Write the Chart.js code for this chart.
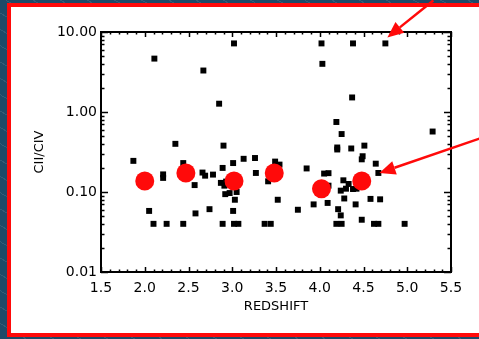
<!DOCTYPE html>
<html>
<head>
<meta charset="utf-8">
<script src="https://cdn.jsdelivr.net/npm/chart.js@4/dist/chart.umd.min.js"></script>
<style>
  html, body { margin: 0; padding: 0; }
  body {
    width: 479px; height: 339px; overflow: hidden; position: relative;
    background: #1e4a68 repeating-linear-gradient(31deg, transparent 0 13px, rgba(255,255,255,0.10) 13px 14px);
  }
  #panel {
    position: absolute; left: 7px; top: 3px; width: 520px; height: 334px;
    box-sizing: border-box; background: #fff; border: 4px solid #ff0a0a;
  }
  #chart { position: absolute; left: 0; top: 0; }
</style>
</head>
<body>
<div id="panel"></div>
<canvas id="chart" width="479" height="339"></canvas>
<script>
// individual quasars: redshift / CII-CIV ratio
const quasarZ = [
  1.87, 2.11, 2.05, 2.10, 2.21, 2.21, 2.25, 2.35, 2.44, 2.44,
  2.57, 2.58, 2.66, 2.69, 2.67, 2.74, 2.78, 2.85, 2.87, 2.89,
  2.90, 2.89, 2.91, 2.93, 2.92, 2.97, 3.01, 3.02, 3.01, 3.03,
  3.05, 3.02, 3.07, 3.13, 3.26, 3.27, 3.37, 3.44, 3.41, 3.49,
  3.54, 3.52, 3.75, 3.85, 3.93, 4.02, 4.03, 4.05, 4.10, 4.10,
  4.09, 4.19, 4.20, 4.20, 4.25, 4.21, 4.24, 4.19, 4.25, 4.24,
  4.27, 4.28, 4.33, 4.36, 4.37, 4.38, 4.38, 4.41, 4.48, 4.49,
  4.51, 4.48, 4.58, 4.64, 4.67, 4.69, 4.62, 4.67, 4.75, 4.97,
  5.29, 4.30, 4.42
];
const quasarRatio = [
  0.245, 4.65, 0.058, 0.040, 0.166, 0.150, 0.040, 0.40, 0.23, 0.040,
  0.122, 0.054, 0.175, 0.160, 3.3, 0.061, 0.165, 1.27, 0.13, 0.20,
  0.38, 0.040, 0.12, 0.135, 0.094, 0.097, 0.23, 7.2, 0.058, 0.080,
  0.100, 0.040, 0.040, 0.26, 0.266, 0.173, 0.040, 0.040, 0.136, 0.24,
  0.22, 0.080, 0.060, 0.197, 0.070, 7.2, 4.0, 0.17, 0.172, 0.12,
  0.073, 0.75, 0.36, 0.34, 0.53, 0.061, 0.051, 0.040, 0.040, 0.104,
  0.14, 0.083, 0.126, 0.35, 1.52, 7.2, 0.109, 0.070, 0.256, 0.28,
  0.38, 0.045, 0.082, 0.226, 0.173, 0.081, 0.040, 0.040, 7.2, 0.040,
  0.57, 0.11, 0.11
];

// binned means
const binZ = [2.00, 2.47, 3.02, 3.48, 4.02, 4.48];
const binRatio = [0.137, 0.173, 0.137, 0.173, 0.110, 0.137];

const xTickValues = [1.5, 2.0, 2.5, 3.0, 3.5, 4.0, 4.5, 5.0, 5.5];
const xTickLabels = ['1.5', '2.0', '2.5', '3.0', '3.5', '4.0', '4.5', '5.0', '5.5'];
const yTickValues = [0.01, 0.1, 1, 10];
const yTickLabels = ['0.01', '0.10', '1.00', '10.00'];

// arrows point at these quasars (index into quasar arrays)
const arrowTargets = [78, 74];

const FONT = 'DejaVu Sans';

function pairs(xs, ys) {
  return xs.map((x, i) => ({ x: x, y: ys[i] }));
}

// IDL style frame with inward ticks on all four sides
const framePlugin = {
  id: 'frame',
  afterDatasetsDraw(chart) {
    const { ctx, chartArea: a, scales: { x, y } } = chart;
    ctx.save();
    ctx.strokeStyle = '#000';
    ctx.lineWidth = 1.5;
    ctx.beginPath();
    for (let i = 0; i <= 40; i++) {
      const v = 1.5 + i * 0.1;
      const px = Math.round(x.getPixelForValue(v)) + 0.5;
      const len = i % 5 === 0 ? 5 : 2.5;
      ctx.moveTo(px, a.bottom); ctx.lineTo(px, a.bottom - len);
      ctx.moveTo(px, a.top); ctx.lineTo(px, a.top + len);
    }
    [0.01, 0.1, 1].forEach(dec => {
      for (let m = 1; m <= 10; m++) {
        const py = Math.round(y.getPixelForValue(dec * m)) + 0.5;
        const len = (m === 1 || m === 10) ? 7 : 3.5;
        ctx.moveTo(a.left, py); ctx.lineTo(a.left + len, py);
        ctx.moveTo(a.right, py); ctx.lineTo(a.right - len, py);
      }
    });
    ctx.stroke();
    ctx.lineWidth = 2;
    ctx.strokeRect(a.left, a.top, a.right - a.left, a.bottom - a.top);
    ctx.restore();
  },
  afterDraw(chart) {
    const { ctx, scales: { x, y } } = chart;
    const offsets = [[2, -6, 46, -37], [1, 0, 102, -35]];
    ctx.save();
    ctx.strokeStyle = '#ff0a0a';
    ctx.fillStyle = '#ff0a0a';
    ctx.lineWidth = 2.5;
    arrowTargets.forEach((idx, k) => {
      const o = offsets[k];
      const tx = x.getPixelForValue(quasarZ[idx]) + o[0];
      const ty = y.getPixelForValue(quasarRatio[idx]) + o[1];
      const sx = tx + o[2], sy = ty + o[3];
      const ang = Math.atan2(ty - sy, tx - sx);
      const hl = 16, hw = 7;
      const bx = tx - hl * Math.cos(ang), by = ty - hl * Math.sin(ang);
      ctx.beginPath();
      ctx.moveTo(sx, sy); ctx.lineTo(bx, by);
      ctx.stroke();
      ctx.beginPath();
      ctx.moveTo(tx, ty);
      ctx.lineTo(bx + hw * Math.sin(ang), by - hw * Math.cos(ang));
      ctx.lineTo(bx - hw * Math.sin(ang), by + hw * Math.cos(ang));
      ctx.closePath();
      ctx.fill();
    });
    ctx.restore();
  }
};

new Chart(document.getElementById('chart').getContext('2d'), {
  type: 'scatter',
  data: {
    datasets: [
      {
        label: 'bins',
        data: pairs(binZ, binRatio),
        backgroundColor: '#ff0a0a',
        borderWidth: 0,
        pointRadius: 9.5,
        pointHoverRadius: 9.5
      },
      {
        label: 'quasars',
        data: pairs(quasarZ, quasarRatio),
        backgroundColor: '#000',
        borderWidth: 0,
        pointStyle: 'rect',
        pointRadius: 4.2,
        pointHoverRadius: 4.2
      }
    ]
  },
  options: {
    responsive: false,
    animation: false,
    events: [],
    layout: { padding: { left: 0, top: 32, right: 28, bottom: 0 } },
    plugins: { legend: { display: false }, tooltip: { enabled: false } },
    scales: {
      x: {
        type: 'linear',
        min: 1.5,
        max: 5.5,
        afterFit: s => { s.height = 67; },
        afterBuildTicks: s => { s.ticks = xTickValues.map(v => ({ value: v })); },
        grid: { display: false, drawTicks: false },
        border: { display: false },
        ticks: {
          padding: 8,
          color: '#000',
          font: { family: FONT, size: 14 },
          autoSkip: false,
          maxRotation: 0,
          callback: (v) => xTickLabels[xTickValues.indexOf(v)]
        },
        title: {
          display: true,
          text: 'REDSHIFT',
          color: '#000',
          font: { family: FONT, size: 13 },
          padding: { top: 0, bottom: 25 }
        }
      },
      y: {
        type: 'logarithmic',
        min: 0.01,
        max: 10,
        afterFit: s => { s.width = 101; },
        afterBuildTicks: s => { s.ticks = yTickValues.map(v => ({ value: v })); },
        grid: { display: false, drawTicks: false },
        border: { display: false },
        ticks: {
          padding: 4,
          color: '#000',
          font: { family: FONT, size: 14 },
          autoSkip: false,
          callback: (v) => yTickLabels[yTickValues.indexOf(v)]
        },
        title: {
          display: true,
          text: 'CII/CIV',
          color: '#000',
          font: { family: FONT, size: 13 },
          padding: { top: 32, bottom: 0 }
        }
      }
    }
  },
  plugins: [framePlugin]
});
</script>
</body>
</html>
